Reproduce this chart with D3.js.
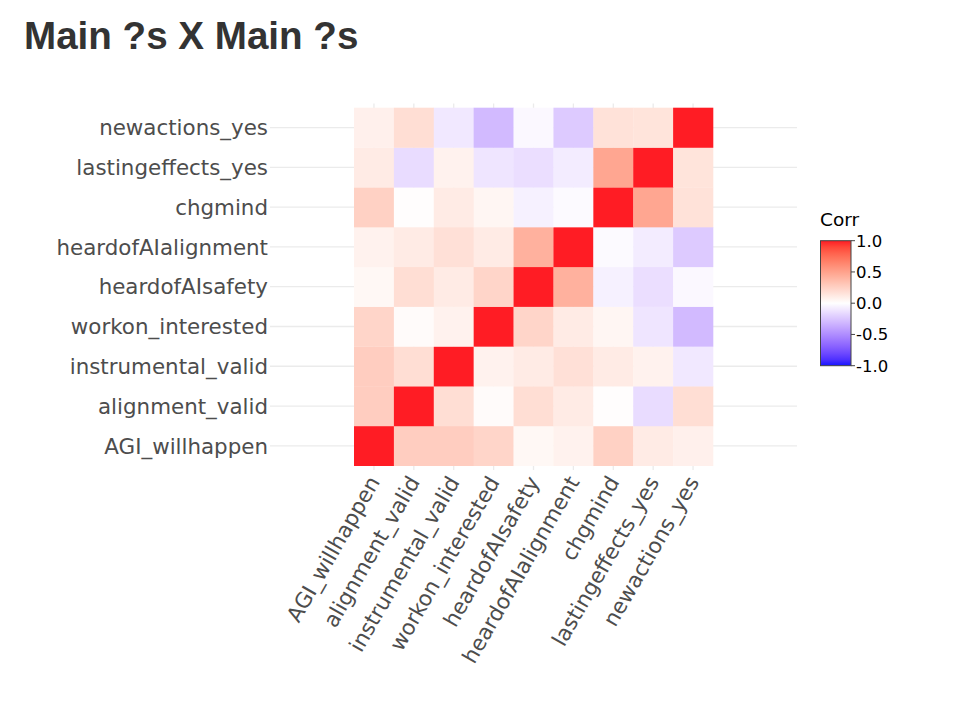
<!DOCTYPE html>
<html>
<head>
<meta charset="utf-8">
<script src="https://cdn.jsdelivr.net/npm/d3@7"></script>
<style>
  html, body { margin: 0; padding: 0; background: #fff; }
  svg { display: block; }
</style>
</head>
<body>
<svg id="chart" width="958" height="704"></svg>
<script>
// ---- data ----
const title = "Main ?s X Main ?s";
const variables = ["AGI_willhappen", "alignment_valid", "instrumental_valid", "workon_interested",
  "heardofAIsafety", "heardofAIalignment", "chgmind", "lastingeffects_yes", "newactions_yes"];
// correlation matrix rows (same order as variables)
const corr = [
  [1.00, 0.27, 0.27, 0.23, 0.04, 0.07, 0.25, 0.11, 0.08],
  [0.27, 1.00, 0.18, 0.02, 0.18, 0.11, 0.01, -0.15, 0.18],
  [0.27, 0.18, 1.00, 0.07, 0.11, 0.17, 0.11, 0.07, -0.10],
  [0.23, 0.02, 0.07, 1.00, 0.23, 0.11, 0.05, -0.11, -0.30],
  [0.04, 0.18, 0.11, 0.23, 1.00, 0.42, -0.06, -0.14, -0.03],
  [0.07, 0.11, 0.17, 0.11, 0.42, 1.00, -0.02, -0.08, -0.23],
  [0.25, 0.01, 0.11, 0.05, -0.06, -0.02, 1.00, 0.48, 0.16],
  [0.11, -0.15, 0.07, -0.11, -0.14, -0.08, 0.48, 1.00, 0.15],
  [0.08, 0.18, -0.10, -0.30, -0.03, -0.23, 0.16, 0.15, 1.00]
];
const legendTitle = "Corr";
const legendTicks = [-1.0, -0.5, 0.0, 0.5, 1.0];

// ---- drawing ----
const svg = d3.select("#chart");

const heat = { x0: 354, x1: 713, y0: 107.7, y1: 465.7 };
const plot = { x0: 270, x1: 797, y0: 103.5, y1: 470 };

const x = d3.scaleBand().domain(variables).range([heat.x0, heat.x1]).padding(0);
const y = d3.scaleBand().domain(variables).range([heat.y1, heat.y0]).padding(0);

const color = d3.scaleLinear()
  .domain([-1, 0, 1])
  .range(["#1414FF", "#FFFFFF", "#FF1C24"])
  .interpolate(d3.interpolateLab);

// title
svg.append("text")
  .attr("x", 24).attr("y", 49)
  .attr("font-family", "'Liberation Sans', Arial, Helvetica, sans-serif")
  .attr("font-weight", "bold")
  .attr("font-size", 38.6)
  .attr("fill", "#333333")
  .text(title);

// grid lines
const grid = svg.append("g");
grid.selectAll("line.h").data(variables).join("line")
  .attr("x1", plot.x0).attr("x2", plot.x1)
  .attr("y1", d => y(d) + y.bandwidth() / 2)
  .attr("y2", d => y(d) + y.bandwidth() / 2)
  .attr("stroke", "#EBEBEB").attr("stroke-width", 1.3);
grid.selectAll("line.v").data(variables).join("line")
  .attr("y1", plot.y0).attr("y2", plot.y1)
  .attr("x1", d => x(d) + x.bandwidth() / 2)
  .attr("x2", d => x(d) + x.bandwidth() / 2)
  .attr("stroke", "#EBEBEB").attr("stroke-width", 1.3);

// cells
const cells = [];
corr.forEach((row, i) => row.forEach((v, j) => cells.push({ row: variables[i], col: variables[j], v })));
svg.append("g").selectAll("rect").data(cells).join("rect")
  .attr("x", d => x(d.col))
  .attr("y", d => y(d.row))
  .attr("width", x.bandwidth() + 0.3)
  .attr("height", y.bandwidth() + 0.3)
  .attr("fill", d => color(d.v));

const axisFont = "'DejaVu Sans', Verdana, sans-serif";

// y labels
svg.append("g").selectAll("text").data(variables).join("text")
  .attr("x", 268)
  .attr("y", d => y(d) + y.bandwidth() / 2)
  .attr("dy", "0.36em")
  .attr("text-anchor", "end")
  .attr("font-family", axisFont)
  .attr("font-size", 21.4)
  .attr("fill", "#4D4D4D")
  .text(d => d);

// x labels
svg.append("g").selectAll("text").data(variables).join("text")
  .attr("transform", d => `translate(${x(d) + x.bandwidth() / 2},${478}) rotate(-60)`)
  .attr("dy", "0.36em")
  .attr("text-anchor", "end")
  .attr("font-family", axisFont)
  .attr("font-size", 21.4)
  .attr("fill", "#4D4D4D")
  .text(d => d);

// colorbar
const cb = { x: 820.5, y0: 240.7, y1: 365.7, w: 30.5 };
const cbScale = d3.scaleLinear().domain([-1, 1]).range([cb.y1, cb.y0]);
const defs = svg.append("defs");
const grad = defs.append("linearGradient").attr("id", "cbgrad")
  .attr("x1", "0").attr("y1", "1").attr("x2", "0").attr("y2", "0");
d3.range(0, 1.0001, 0.05).forEach(t => {
  grad.append("stop").attr("offset", t).attr("stop-color", color(-1 + 2 * t));
});
svg.append("rect")
  .attr("x", cb.x).attr("y", cb.y0)
  .attr("width", cb.w).attr("height", cb.y1 - cb.y0)
  .attr("fill", "url(#cbgrad)")
  .attr("stroke", "#444").attr("stroke-width", 1);

svg.append("g").selectAll("line").data(legendTicks).join("line")
  .attr("x1", cb.x + cb.w).attr("x2", cb.x + cb.w + 4)
  .attr("y1", d => cbScale(d)).attr("y2", d => cbScale(d))
  .attr("stroke", "#444").attr("stroke-width", 1);

svg.append("g").selectAll("text").data(legendTicks).join("text")
  .attr("x", cb.x + cb.w + 5)
  .attr("y", d => cbScale(d))
  .attr("dy", "0.36em")
  .attr("font-family", axisFont)
  .attr("font-size", 16.5)
  .attr("fill", "#000")
  .text(d => d3.format(".1f")(d).replace("−", "-"));

svg.append("text")
  .attr("x", 820).attr("y", 226)
  .attr("font-family", axisFont)
  .attr("font-size", 18.5)
  .attr("fill", "#000")
  .text(legendTitle);
</script>
</body>
</html>
